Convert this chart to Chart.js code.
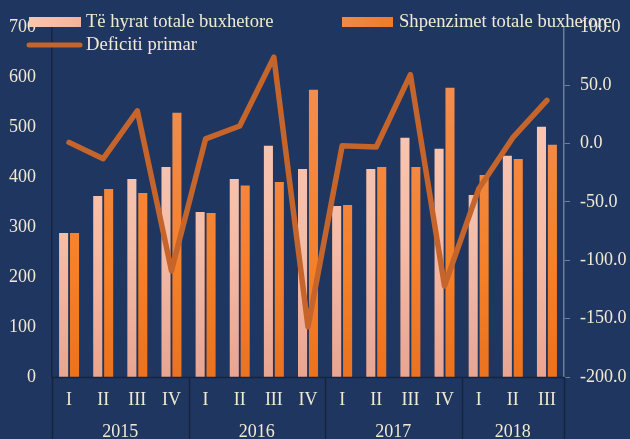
<!DOCTYPE html>
<html>
<head>
<meta charset="utf-8">
<script src="https://cdn.jsdelivr.net/npm/chart.js@4"></script>
<style>
  html, body { margin: 0; padding: 0; background: #1F3660; }
  #wrap { position: relative; width: 630px; height: 439px; }
</style>
</head>
<body>
<div id="wrap"><canvas id="budgetChart" width="630" height="439"></canvas></div>
<script>
// quarters and years
const quarters = ['I', 'II', 'III', 'IV', 'I', 'II', 'III', 'IV', 'I', 'II', 'III', 'IV', 'I', 'II', 'III'];
const years = ['2015', '2016', '2017', '2018'];
const yearSpans = [4, 4, 4, 3];

// values
const revenue = [288, 362, 396, 420, 330, 396, 462, 416, 342, 416, 478, 456, 364, 442, 500];
const spending = [288, 376, 368, 528, 328, 383, 390, 574, 344, 420, 420, 578, 404, 436, 464];
const primaryDeficit = [1, -13, 28, -109, 4, 15, 74, -157, -2, -3, 59, -122, -39, 5, 37];

const leftTicks = [0, 100, 200, 300, 400, 500, 600, 700];
const rightTicks = [-200, -150, -100, -50, 0, 50, 100];

const textColor = '#F1EAD3';
const fontFamily = "'Liberation Serif', 'Times New Roman', serif";

// vertical gradients for the bars
function revenueFill(context) {
    const area = context.chart.chartArea;
    if (!area) return '#F4BBA6';
    const g = context.chart.ctx.createLinearGradient(0, area.top, 0, area.bottom);
    g.addColorStop(0, '#F8CDB9');
    g.addColorStop(0.6, '#F5BDA8');
    g.addColorStop(1, '#E8A592');
    return g;
}
function spendingFill(context) {
    const area = context.chart.chartArea;
    if (!area) return '#F08030';
    const g = context.chart.ctx.createLinearGradient(0, area.top, 0, area.bottom);
    g.addColorStop(0, '#F1925D');
    g.addColorStop(0.7, '#F58028');
    g.addColorStop(1, '#EB721E');
    return g;
}

// year labels, year dividers and the legend
const decorations = {
    id: 'decorations',
    afterDraw(chart) {
        const ctx = chart.ctx;
        const area = chart.chartArea;
        const step = (area.right - area.left) / quarters.length;
        ctx.save();

        // dividers
        ctx.strokeStyle = '#16243F';
        ctx.lineWidth = 1.5;
        let idx = 0;
        const bounds = [0];
        yearSpans.forEach(s => { idx += s; bounds.push(idx); });
        bounds.forEach(b => {
            const px = Math.round(area.left + b * step) + 0.5;
            ctx.beginPath();
            ctx.moveTo(px, area.bottom);
            ctx.lineTo(px, chart.height);
            ctx.stroke();
        });
        ctx.beginPath();
        ctx.moveTo(area.left, area.bottom + 0.5);
        ctx.lineTo(area.right, area.bottom + 0.5);
        ctx.stroke();

        // year labels
        ctx.fillStyle = textColor;
        ctx.font = '18px ' + fontFamily;
        ctx.textAlign = 'center';
        ctx.textBaseline = 'middle';
        years.forEach((yr, i) => {
            const mid = area.left + (bounds[i] + bounds[i + 1]) / 2 * step;
            ctx.fillText(yr, mid, 432);
        });

        // legend
        ctx.textAlign = 'left';
        let g = ctx.createLinearGradient(29, 0, 81, 0);
        g.addColorStop(0, '#F7C6B2');
        g.addColorStop(1, '#F3B39E');
        ctx.fillStyle = g;
        ctx.fillRect(29, 17, 52, 10);
        g = ctx.createLinearGradient(342, 0, 393, 0);
        g.addColorStop(0, '#F08A48');
        g.addColorStop(1, '#F07A28');
        ctx.fillStyle = g;
        ctx.fillRect(342, 17, 51, 10);
        ctx.strokeStyle = '#C5652B';
        ctx.lineWidth = 5;
        ctx.lineCap = 'round';
        ctx.beginPath();
        ctx.moveTo(29, 45);
        ctx.lineTo(80, 45);
        ctx.stroke();

        ctx.fillStyle = textColor;
        ctx.font = '18.6px ' + fontFamily;
        ctx.fillText('Të hyrat totale buxhetore', 86, 22);
        ctx.fillText('Shpenzimet totale buxhetore', 399, 22);
        ctx.fillText('Deficiti primar', 86, 45);
        ctx.restore();
    }
};

Chart.defaults.font.family = fontFamily;
Chart.defaults.font.size = 18;
Chart.defaults.color = textColor;

const ctx = document.getElementById('budgetChart').getContext('2d');
const budgetChart = new Chart(ctx, {
    type: 'bar',
    data: {
        labels: quarters,
        datasets: [
            {
                type: 'line',
                label: 'Deficiti primar',
                data: primaryDeficit,
                yAxisID: 'y1',
                borderColor: '#C5652B',
                borderWidth: 5.5,
                borderCapStyle: 'round',
                borderJoinStyle: 'round',
                pointRadius: 0,
                tension: 0,
                order: 0
            },
            {
                label: 'Të hyrat totale buxhetore',
                data: revenue,
                yAxisID: 'y',
                backgroundColor: revenueFill,
                categoryPercentage: 0.64,
                barPercentage: 0.83,
                order: 1
            },
            {
                label: 'Shpenzimet totale buxhetore',
                data: spending,
                yAxisID: 'y',
                backgroundColor: spendingFill,
                categoryPercentage: 0.64,
                barPercentage: 0.83,
                order: 1
            }
        ]
    },
    options: {
        responsive: false,
        animation: false,
        layout: { padding: { top: 25, left: 0, right: 0, bottom: 0 } },
        plugins: {
            legend: { display: false },
            tooltip: { enabled: false }
        },
        scales: {
            x: {
                grid: { display: false, drawTicks: false },
                border: { display: false },
                ticks: { padding: 12, maxRotation: 0, autoSkip: false },
                afterFit: axis => { axis.height = 62; }
            },
            y: {
                position: 'left',
                min: 0,
                max: 700,
                afterBuildTicks: axis => { axis.ticks = leftTicks.map(v => ({ value: v })); },
                grid: { display: false, drawTicks: false },
                border: { display: true, color: '#16243F', width: 1.5 },
                ticks: { padding: 16 },
                afterFit: axis => { axis.width = 52; }
            },
            y1: {
                position: 'right',
                min: -200,
                max: 100,
                afterBuildTicks: axis => { axis.ticks = rightTicks.map(v => ({ value: v })); },
                grid: { drawOnChartArea: false, drawTicks: true, tickLength: 6, color: '#6E7E9A' },
                border: { display: true, color: '#6E7E9A', width: 1.5 },
                ticks: { padding: 10, callback: v => v.toFixed(1) },
                afterFit: axis => { axis.width = 66; }
            }
        }
    },
    plugins: [decorations]
});
</script>
</body>
</html>
